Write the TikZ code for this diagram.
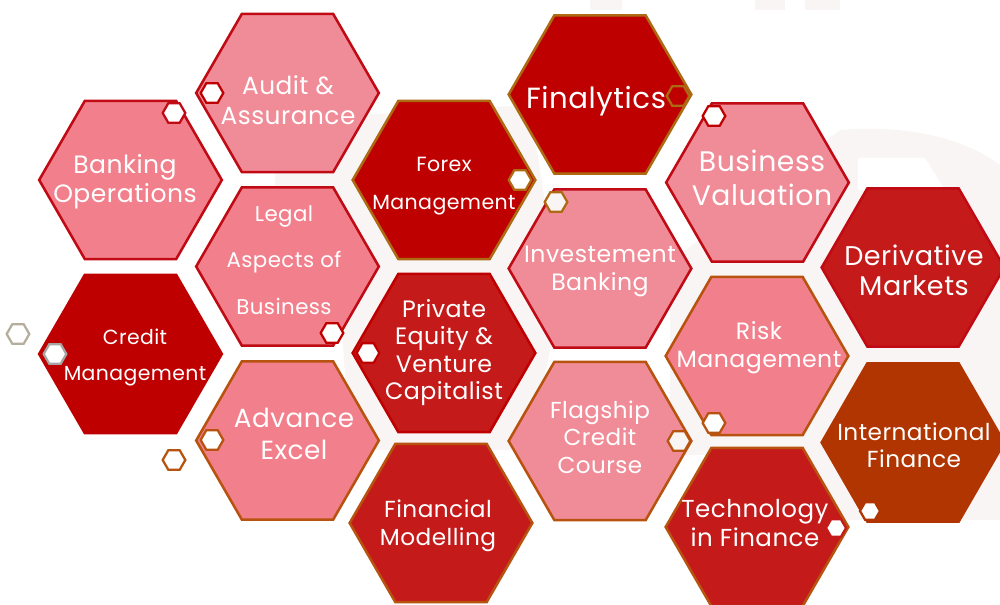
\documentclass[tikz,border=0pt]{standalone}
\usepackage{fontspec}
\setmainfont{Poppins}[LetterSpace=2]
\usetikzlibrary{shapes.geometric}
\definecolor{pinkA}{HTML}{F2808C}
\definecolor{pinkB}{HTML}{F08C98}
\definecolor{darkR}{HTML}{BF0000}
\definecolor{midR}{HTML}{C41A1A}
\definecolor{rust}{HTML}{B03500}
\definecolor{lineR}{HTML}{C00A14}
\definecolor{lineO}{HTML}{B8520F}
\definecolor{lineT}{HTML}{AD6A12}
\definecolor{lineG}{HTML}{B5AE9C}
\definecolor{pale}{HTML}{F9F5F5}
\tikzset{
  bighex/.style={regular polygon,regular polygon sides=6,minimum size=137pt,inner sep=0pt,outer sep=0pt,line width=1.9pt,line join=miter},
  smallhex/.style={regular polygon,regular polygon sides=6,minimum size=17pt,inner sep=0pt,outer sep=0pt,line width=1.7pt,fill=white},
  hexlabel/.style={text=white,align=center,inner sep=0pt}
}
\newcommand{\lbl}[6]{\node[hexlabel,font=\fontsize{#4}{#5}\selectfont] (#1) at (#2,#3) {#6};}
\begin{document}
\begin{tikzpicture}[x=0.75pt,y=-0.75pt]
\useasboundingbox (0,0) rectangle (1000,605);
\clip (0,0) rectangle (1000,605);
% faint watermark
\fill[pale] (840,130) .. controls (900,125) and (960,135) .. (1000,165) -- (1000,520) -- (783,520) -- (783,455) -- (670,455) -- (670,262) -- cycle;
\fill[white] (858,158) -- (925,158) -- (945,190) -- (858,190) -- cycle;
\fill[pale] (275,120) -- (530,105) -- (560,300) -- (530,450) -- (350,450) -- (340,300) -- (275,230) -- cycle;
\fill[pale] (590,0) rectangle (622,10);
\fill[pale] (755,0) rectangle (785,10);
\fill[pale] (805,0) rectangle (840,10);
% hexagons
\node[bighex,fill=pinkA,draw=lineR] (banking) at (130.5,180) {};
\node[bighex,fill=pinkB,draw=lineR] (audit) at (287.5,93) {};
\node[bighex,fill=darkR,draw=lineT] (forex) at (444,180) {};
\node[bighex,fill=darkR,draw=lineT] (finalytics) at (600,94.5) {};
\node[bighex,fill=pinkB,draw=lineR] (valuation) at (757.5,182.5) {};
\node[bighex,fill=midR,draw=lineR] (derivative) at (913,267.5) {};
\node[bighex,fill=pinkA,draw=lineR] (legal) at (287.5,266.5) {};
\node[bighex,fill=pinkB,draw=lineR] (investment) at (600,268.5) {};
\node[bighex,fill=darkR,draw=darkR] (credit) at (130.5,354) {};
\node[bighex,fill=midR,draw=darkR] (private) at (444,353) {};
\node[bighex,fill=pinkA,draw=lineO] (risk) at (757,356) {};
\node[bighex,fill=rust,draw=rust] (international) at (913,442.5) {};
\node[bighex,fill=pinkA,draw=lineO] (advance) at (287.5,440.5) {};
\node[bighex,fill=pinkB,draw=lineO] (flagship) at (600,441) {};
\node[bighex,fill=midR,draw=lineO] (modelling) at (441,523) {};
\node[bighex,fill=midR,draw=lineO] (technology) at (757,527) {};
% small hexagons
\node[smallhex,draw=lineR] (s1) at (174,113) {};
\node[smallhex,draw=darkR] (s2) at (212,93) {};
\node[smallhex,draw=lineG] (s3) at (18,334) {};
\node[smallhex,draw=gray!70] (s4) at (55,354) {};
\node[smallhex,draw=lineO] (s5) at (212,440) {};
\node[smallhex,draw=lineO] (s6) at (174,460) {};
\node[smallhex,draw=darkR] (s7) at (332,333) {};
\node[smallhex,draw=darkR] (s8) at (368,353) {};
\node[smallhex,draw=lineT] (s9) at (520,180) {};
\node[smallhex,draw=lineT,fill=darkR] (s10) at (678,96) {};
\node[smallhex,draw=lineT,fill=pale] (s11) at (556,202) {};
\node[smallhex,draw=darkR] (s12) at (714,116) {};
\node[smallhex,draw=lineO,fill=pale] (s13) at (679,441) {};
\node[smallhex,draw=lineO] (s14) at (714,423) {};
\node[smallhex,draw=midR,minimum size=15pt] (s15) at (836,528) {};
\node[smallhex,draw=rust,minimum size=15pt] (s16) at (870,511) {};
% texts
\lbl{tbanking}{125}{182}{18.8}{21.8}{Banking\\Operations}
\lbl{taudit}{288}{100}{18.6}{22.5}{Audit \&\\Assurance}
\lbl{tforex}{444}{186}{15.4}{28.5}{Forex\\Management}
\lbl{tfinalytics}{596}{101}{21.9}{26}{Finalytics}
\lbl{tvaluation}{762}{178}{21.2}{25.5}{Business\\Valuation}
\lbl{tlegal}{284}{260}{16}{34.9}{Legal\\Aspects of\\Business}
\lbl{tinvest}{600}{271}{17.7}{21}{Investement\\Banking}
\lbl{tderiv}{914}{270}{20.3}{22.5}{Derivative\\Markets}
\lbl{tcredit}{135}{357}{15.3}{27}{Credit\\Management}
\lbl{tprivate}{444}{352.5}{17.8}{20.6}{Private\\Equity \&\\Venture\\Capitalist}
\lbl{trisk}{759}{348}{17.7}{21}{Risk\\Management}
\lbl{tadvance}{294}{434}{19.7}{24}{Advance\\Excel}
\lbl{tflagship}{600}{437}{17.3}{20.6}{Flagship\\Credit\\Course}
\lbl{tintl}{914}{445}{17.4}{20.3}{International\\Finance}
\lbl{tmodel}{438}{526}{17.4}{21}{Financial\\Modelling}
\lbl{ttech}{755}{523}{18.4}{21.8}{Technology\\in Finance}
\end{tikzpicture}
\end{document}
